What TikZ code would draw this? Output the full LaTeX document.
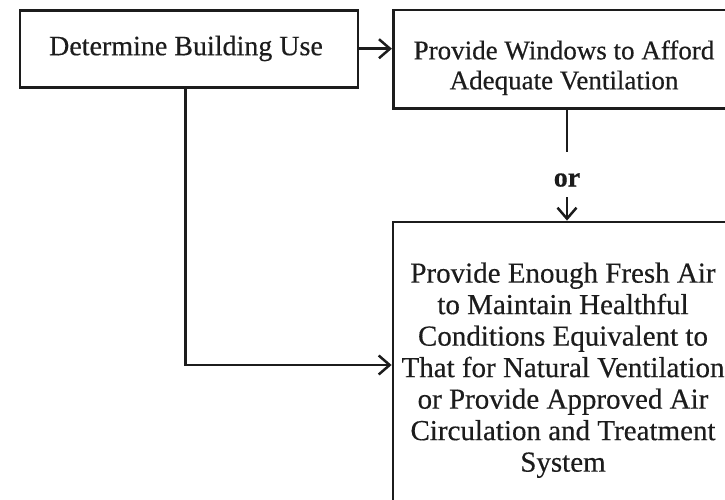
\documentclass[tikz,border=0pt]{standalone}
\usepackage{fontspec}
\setmainfont{Liberation Serif}[FakeBold=0.4]
\usetikzlibrary{arrows.meta}
\definecolor{ink}{HTML}{1C1C1C}
\begin{document}
\begin{tikzpicture}[x=1pt,y=1pt,
  box/.style={draw=ink, line width=2.8pt, inner sep=0pt},
  txt/.style={text=ink, align=center, inner sep=0pt},
  link/.style={draw=ink, line width=2.5pt},
  tip/.style={-{Straight Barb[length=11pt,width=19pt]}},
]
\useasboundingbox (0,0) rectangle (725,-499);
\clip (0,0) rectangle (725,-499);

% frames
\node[box, minimum width=338pt, minimum height=77pt] (use) at (189,-48.7) {};
\node[box, minimum width=342pt, minimum height=98.3pt] (win) at (564.3,-59.15) {};
\node[box, minimum width=344pt, minimum height=293pt] (air) at (565,-368.5) {};

% texts
\node[txt, font=\fontsize{28}{30}\selectfont] (useT) at (186,-48.5)
  {Determine Building Use};
\node[txt, font=\fontsize{27}{30}\selectfont] (winT) at (564,-67.7)
  {Provide Windows to Afford\\Adequate Ventilation};
\node[txt, font=\fontsize{29}{31.5}\selectfont] (airT) at (563,-370.2)
  {Provide Enough Fresh Air\\to Maintain Healthful\\Conditions Equivalent to\\That for Natural Ventilation\\or Provide Approved Air\\Circulation and Treatment\\System};
\node[txt, font=\fontsize{28}{30}\selectfont\bfseries] (or) at (567,-180) {or};

% connectors
\coordinate (turn) at (185.3,-365);
\draw[link, tip] (use.east) -- (use.east -| win.west);
\draw[link, tip] (use.south -| turn) -- (turn) -- (turn -| air.west);
\draw[link, shorten >=21.5pt] (win.south -| or) -- (or);
\draw[link, tip, shorten <=10.5pt] (or) -- (air.north -| or);
\end{tikzpicture}
\end{document}
